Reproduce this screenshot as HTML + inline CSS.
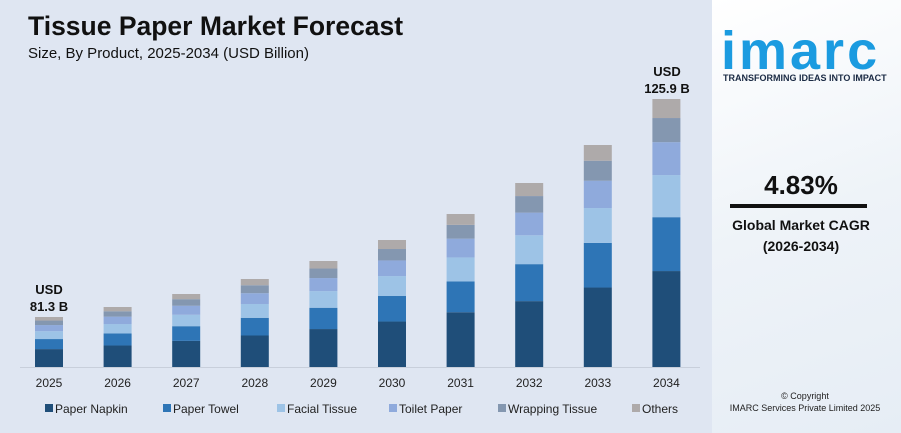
<!DOCTYPE html>
<html><head><meta charset="utf-8"><style>
body{margin:0;width:901px;height:433px;overflow:hidden;font-family:"Liberation Sans",sans-serif;background:#fff;position:relative}
.p{position:absolute;white-space:nowrap}
</style></head><body>
<div class="p" style="left:0;top:0;width:712px;height:433px;background:#dfe6f2"></div>
<div class="p" style="left:712px;top:0;width:189px;height:433px;background:linear-gradient(160deg,#ffffff 0%,#eef3f8 50%,#e6edf5 100%)"></div>
<div class="p" style="left:28px;top:11px;font-size:26.5px;font-weight:bold;color:#111">Tissue Paper Market Forecast</div>
<div class="p" style="left:28px;top:45px;font-size:15px;color:#111">Size, By Product, 2025-2034 (USD Billion)</div>
<svg class="p" style="left:0;top:0" width="712" height="433" id="s">
<line x1="20" y1="367.5" x2="700" y2="367.5" stroke="#c8cfdb" stroke-width="1"/>
</svg>
<div class="p" style="left:24px;top:281px;width:50px;text-align:center;font-size:13px;font-weight:bold;line-height:17px;color:#111">USD<br>81.3 B</div>
<div class="p" style="left:637px;top:63px;width:60px;text-align:center;font-size:13px;font-weight:bold;line-height:17px;color:#111">USD<br>125.9 B</div>
<div class="p" style="left:721px;top:20px;font-size:54px;font-weight:bold;color:#1b9be0;letter-spacing:3px">imarc</div>
<div class="p" style="left:723px;top:73px;font-size:9px;font-weight:bold;color:#1a2a44">TRANSFORMING IDEAS INTO IMPACT</div>
<div class="p" style="left:712px;top:170px;width:178px;text-align:center;font-size:26px;font-weight:bold;color:#111">4.83%</div>
<div class="p" style="left:730px;top:204px;width:137px;height:4px;background:#111"></div>
<div class="p" style="left:712px;top:217px;width:178px;text-align:center;font-size:14px;font-weight:bold;color:#111">Global Market CAGR</div>
<div class="p" style="left:712px;top:238px;width:178px;text-align:center;font-size:14px;font-weight:bold;color:#111">(2026-2034)</div>
<div class="p" style="left:712px;top:390px;width:186px;text-align:center;font-size:9px;color:#222;line-height:12px">© Copyright<br>IMARC Services Private Limited 2025</div>
<script>
var s=document.getElementById('s'),ns='http://www.w3.org/2000/svg';
var tops=[317,307,294,279,261,240,214,183,145,99];
var fr=[0.358,0.201,0.157,0.123,0.09,0.071];
var col=['#1f4e79','#2e75b6','#9dc3e6','#8faadc','#8497b0','#aeaaaa'];
for(var i=0;i<10;i++){var cx=49+i*68.6,h=367-tops[i],y=367;
for(var k=0;k<6;k++){var sh=h*fr[k];var r=document.createElementNS(ns,'rect');
r.setAttribute('x',cx-14);r.setAttribute('width',28);r.setAttribute('y',y-sh);r.setAttribute('height',sh);r.setAttribute('fill',col[k]);s.appendChild(r);y-=sh;}
var t=document.createElementNS(ns,'text');t.setAttribute('x',cx);t.setAttribute('y',387);t.setAttribute('text-anchor','middle');t.setAttribute('font-size','12');t.setAttribute('fill','#222');t.textContent=2025+i;s.appendChild(t);}
var lg=[[45,'Paper Napkin'],[163,'Paper Towel'],[277,'Facial Tissue'],[389,'Toilet Paper'],[498,'Wrapping Tissue'],[632,'Others']];
lg.forEach(function(l,k){var r=document.createElementNS(ns,'rect');r.setAttribute('x',l[0]);r.setAttribute('y',404);r.setAttribute('width',8);r.setAttribute('height',8);r.setAttribute('fill',col[k]);s.appendChild(r);
var t=document.createElementNS(ns,'text');t.setAttribute('x',l[0]+10);t.setAttribute('y',413);t.setAttribute('font-size','12');t.setAttribute('fill','#222');t.textContent=l[1];s.appendChild(t);});
</script>
</body></html>
